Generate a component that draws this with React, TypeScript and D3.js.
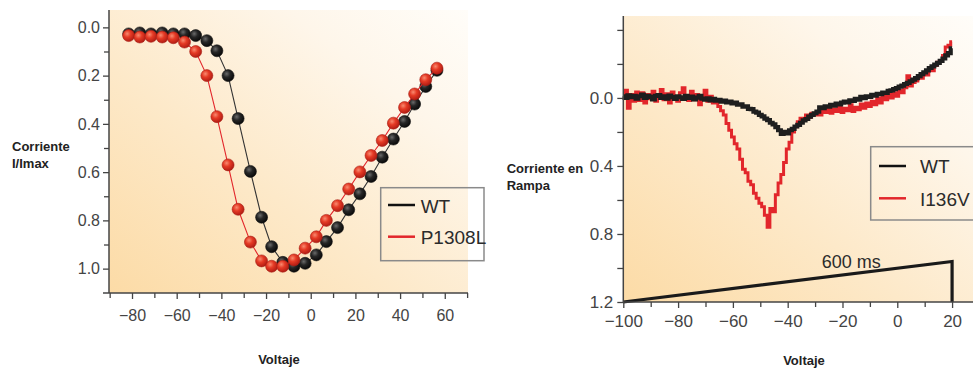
import * as d3 from "d3";
import { useEffect, useRef } from "react";

// --- Left panel: normalized I-V (steady state), two channels ---
const ivVoltages = [
  -81.5, -76.5, -71.5, -66.5, -61.5, -56.5, -51.5, -46.5, -42, -37, -32.5, -27, -22, -17.5, -12.5,
  -7.5, -2.5, 2.5, 7, 12, 17, 22, 27, 32, 37, 42, 46.5, 51.5, 56.5,
];
const ivWT = [
  0.027, 0.023, 0.027, 0.023, 0.027, 0.027, 0.034, 0.055, 0.097, 0.2, 0.378, 0.597, 0.787, 0.909,
  0.974, 0.99, 0.978, 0.943, 0.888, 0.83, 0.756, 0.69, 0.618, 0.538, 0.463, 0.39, 0.318, 0.245, 0.178,
];
const ivP1308L = [
  0.034, 0.04, 0.037, 0.04, 0.043, 0.061, 0.1, 0.2, 0.37, 0.57, 0.754, 0.89, 0.968, 0.99, 0.99,
  0.964, 0.915, 0.868, 0.8, 0.739, 0.67, 0.599, 0.531, 0.469, 0.397, 0.332, 0.276, 0.217, 0.169,
];
const ivXTicks = [-80, -60, -40, -20, 0, 20, 40, 60];
const ivXMinor = [-90, -70, -50, -30, -10, 10, 30, 50, 70];
const ivYTicks = [0, 0.2, 0.4, 0.6, 0.8, 1.0];
const ivYMinor = [0.1, 0.3, 0.5, 0.7, 0.9];

// --- Right panel: ramp currents, one sample per mV from -100 to +20 ---
const rampVoltages = d3.range(-100, 21, 1);
const rampWT = [
  -0.01, 0.0, -0.015, -0.005, -0.012, 0.004, -0.01, -0.02, 0.0, -0.012,
  -0.006, 0.008, -0.012, -0.016, 0.0, -0.01, 0.004, -0.014, -0.005, 0.006,
  -0.01, -0.004, 0.005, -0.012, 0.0, -0.008, 0.008, -0.002, -0.012, 0.004,
  0.01, 0.002, 0.014, 0.006, 0.016, 0.012, 0.022, 0.015, 0.026, 0.022,
  0.032, 0.028, 0.04, 0.038, 0.052, 0.05, 0.064, 0.066, 0.08, 0.086,
  0.1, 0.108, 0.122, 0.13, 0.146, 0.156, 0.172, 0.19, 0.212, 0.2,
  0.208, 0.19, 0.182, 0.168, 0.158, 0.146, 0.132, 0.124, 0.11, 0.1,
  0.09, 0.08, 0.055, 0.06, 0.05, 0.052, 0.04, 0.045, 0.034, 0.038,
  0.028, 0.022, 0.026, 0.014, 0.018, 0.006, 0.01, -0.006, 0.002, -0.01,
  -0.006, -0.018, -0.014, -0.024, -0.022, -0.032, -0.03, -0.042, -0.044, -0.052,
  -0.058, -0.066, -0.072, -0.082, -0.088, -0.098, -0.108, -0.116, -0.128, -0.14,
  -0.15, -0.162, -0.176, -0.186, -0.196, -0.206, -0.218, -0.232, -0.25, -0.264,
  -0.292,
];
const rampI136V = [
  0.0, -0.045, 0.06, -0.02, 0.02, -0.035, 0.015, -0.03, 0.03, -0.02,
  0.005, -0.04, 0.02, -0.01, -0.05, 0.01, -0.025, 0.03, -0.035, 0.0,
  0.02, -0.03, -0.06, 0.0, 0.015, -0.04, 0.01, -0.02, 0.04, -0.015,
  -0.045, 0.02, -0.01, 0.03, 0.01, 0.05, 0.075, 0.1, 0.15, 0.19,
  0.23, 0.27, 0.3, 0.36, 0.42, 0.44, 0.49, 0.51, 0.56, 0.59,
  0.62, 0.64, 0.69, 0.76, 0.65, 0.67, 0.57, 0.5, 0.45, 0.38,
  0.3, 0.26, 0.2, 0.17, 0.14, 0.12, 0.13, 0.1, 0.115, 0.09,
  0.1, 0.08, 0.1, 0.07, 0.085, 0.06, 0.09, 0.065, 0.08, 0.05,
  0.085, 0.06, 0.075, 0.04, 0.08, 0.055, 0.07, 0.035, 0.06, 0.03,
  0.05, 0.02, 0.04, 0.0, 0.03, -0.01, 0.01, -0.02, 0.0, -0.03,
  -0.01, -0.045, -0.03, -0.06, -0.13, -0.07, -0.09, -0.1, -0.12, -0.115,
  -0.14, -0.135, -0.17, -0.16, -0.19, -0.21, -0.22, -0.25, -0.3, -0.31,
  -0.33,
];
const protocolV = [-100, 20, 20];
const protocolI = [1.2, 0.962, 1.2];
const rampXTicks = [-100, -80, -60, -40, -20, 0, 20];
const rampXMinor = [-90, -70, -50, -30, -10, 10];
const rampYTicks = [0, 0.4, 0.8, 1.2];
const rampYMinor = [-0.4, -0.2, 0.2, 0.6, 1.0];

const FONT = "'Liberation Sans', Arial, sans-serif";
const AXIS = "#444";
const RED = "#e2262b";

export default function App() {
  const lx = useRef<SVGGElement>(null);
  const lxm = useRef<SVGGElement>(null);
  const ly = useRef<SVGGElement>(null);
  const lym = useRef<SVGGElement>(null);
  const rx = useRef<SVGGElement>(null);
  const rxm = useRef<SVGGElement>(null);
  const ry = useRef<SVGGElement>(null);
  const rym = useRef<SVGGElement>(null);

  // left panel scales
  const xL = d3.scaleLinear().domain([-90.3, 70.4]).range([109, 468]);
  const yL = d3.scaleLinear().domain([-0.072, 1.101]).range([10, 293]);
  // right panel scales
  const xR = d3.scaleLinear().domain([-100, 28]).range([623.3, 974]);
  const yR = d3.scaleLinear().domain([-0.48, 1.2]).range([16.3, 302]);

  useEffect(() => {
    const style = (g: any, size: number) => {
      g.select(".domain").remove();
      g.selectAll("line").attr("stroke", AXIS).attr("stroke-width", 1.3);
      g.selectAll("text").attr("fill", AXIS).attr("font-size", size).attr("font-family", FONT);
    };
    const fx = d3.format("d");
    const fy = d3.format(".1f");
    const none = () => "";

    d3.select(lx.current).call(d3.axisBottom(xL).tickValues(ivXTicks).tickSize(6).tickPadding(11).tickFormat(fx as any)).call(style, 16);
    d3.select(lxm.current).call(d3.axisBottom(xL).tickValues(ivXMinor).tickSize(5).tickFormat(none)).call(style, 16);
    d3.select(ly.current).call(d3.axisLeft(yL).tickValues(ivYTicks).tickSize(6).tickPadding(3).tickFormat(fy as any)).call(style, 16);
    d3.select(lym.current).call(d3.axisLeft(yL).tickValues(ivYMinor).tickSize(5).tickFormat(none)).call(style, 16);

    d3.select(rx.current).call(d3.axisBottom(xR).tickValues(rampXTicks).tickSize(6).tickPadding(7).tickFormat(fx as any)).call(style, 17);
    d3.select(rxm.current).call(d3.axisBottom(xR).tickValues(rampXMinor).tickSize(5).tickFormat(none)).call(style, 17);
    d3.select(ry.current).call(d3.axisLeft(yR).tickValues(rampYTicks).tickSize(6).tickPadding(4).tickFormat(fy as any)).call(style, 17);
    d3.select(rym.current).call(d3.axisLeft(yR).tickValues(rampYMinor).tickSize(6).tickFormat(none)).call(style, 17);
  }, []);

  const ivLine = d3
    .line<number>()
    .x((_, i) => xL(ivVoltages[i]))
    .y((d) => yL(d));
  const rampLine = d3
    .line<number>()
    .curve(d3.curveStep)
    .x((_, i) => xR(rampVoltages[i]))
    .y((d) => yR(d));
  const protoLine = d3
    .line<number>()
    .x((_, i) => xR(protocolV[i]))
    .y((d) => yR(d));

  return (
    <svg width={973} height={368} style={{ position: "absolute", left: 0, top: 0, background: "#fff" }} fontFamily={FONT}>
      <defs>
        <linearGradient id="bg" x1="0" y1="1" x2="1" y2="0">
          <stop offset="0" stopColor="#fcdba6" />
          <stop offset="0.4" stopColor="#fde9c9" />
          <stop offset="0.75" stopColor="#fef6ea" />
          <stop offset="1" stopColor="#fffdf9" />
        </linearGradient>
        <radialGradient id="dotRed" cx="0.38" cy="0.35" r="0.65">
          <stop offset="0" stopColor="#f88a70" />
          <stop offset="0.45" stopColor="#e53a25" />
          <stop offset="1" stopColor="#b21d14" />
        </radialGradient>
        <radialGradient id="dotBlack" cx="0.38" cy="0.35" r="0.65">
          <stop offset="0" stopColor="#6a6a6a" />
          <stop offset="0.45" stopColor="#262626" />
          <stop offset="1" stopColor="#0a0a0a" />
        </radialGradient>
      </defs>

      {/* ---------- left panel ---------- */}
      <rect x={109} y={10} width={359} height={283} fill="url(#bg)" />
      <path d={ivLine(ivWT) ?? ""} fill="none" stroke="#333" strokeWidth={1.1} />
      {ivWT.map((d, i) => (
        <circle key={"w" + i} cx={xL(ivVoltages[i])} cy={yL(d)} r={6} fill="url(#dotBlack)" stroke="#111" strokeWidth={0.6} />
      ))}
      <path d={ivLine(ivP1308L) ?? ""} fill="none" stroke={RED} strokeWidth={1.1} />
      {ivP1308L.map((d, i) => (
        <circle key={"p" + i} cx={xL(ivVoltages[i])} cy={yL(d)} r={6} fill="url(#dotRed)" stroke="#a81c14" strokeWidth={0.6} />
      ))}
      <line x1={103} x2={468} y1={293} y2={293} stroke={AXIS} strokeWidth={1.5} />
      <line x1={109} x2={109} y1={10} y2={293} stroke={AXIS} strokeWidth={1.5} />
      <g ref={lx} transform="translate(0,293)" />
      <g ref={lxm} transform="translate(0,293)" />
      <g ref={ly} transform="translate(109,0)" />
      <g ref={lym} transform="translate(109,0)" />

      <g>
        <rect x={380.7} y={187.7} width={103.3} height={73} fill="none" stroke="#8a8a8a" strokeWidth={1.5} />
        <line x1={388} x2={415} y1={205} y2={205} stroke="#111" strokeWidth={2.5} />
        <line x1={388} x2={415} y1={236.7} y2={236.7} stroke={RED} strokeWidth={2.5} />
        <text x={420.7} y={212.5} fontSize={19} fill="#2b2b2b">WT</text>
        <text x={420.7} y={244} fontSize={19} fill="#2b2b2b">P1308L</text>
      </g>

      <text x={12} y={151} fontSize={13} fontWeight="bold" fill="#222">Corriente</text>
      <text x={12} y={167.5} fontSize={13} fontWeight="bold" fill="#222">I/Imax</text>
      <text x={279} y={364} fontSize={13} fontWeight="bold" fill="#222" textAnchor="middle">Voltaje</text>

      {/* ---------- right panel ---------- */}
      <rect x={623.3} y={16} width={350} height={286} fill="url(#bg)" />
      <path d={rampLine(rampI136V) ?? ""} fill="none" stroke={RED} strokeWidth={3} />
      <path d={rampLine(rampWT) ?? ""} fill="none" stroke="#1e1e1e" strokeWidth={4.2} />
      <path d={protoLine(protocolI) ?? ""} fill="none" stroke="#1a1a1a" strokeWidth={3.2} />
      <text x={821.7} y={268} fontSize={18} fill="#2b2b2b">600 ms</text>
      <line x1={623.3} x2={973} y1={302} y2={302} stroke={AXIS} strokeWidth={1.5} />
      <line x1={623.3} x2={623.3} y1={16} y2={302} stroke={AXIS} strokeWidth={1.5} />
      <g ref={rx} transform="translate(0,302)" />
      <g ref={rxm} transform="translate(0,302)" />
      <g ref={ry} transform="translate(623.3,0)" />
      <g ref={rym} transform="translate(623.3,0)" />

      <g>
        <rect x={870.7} y={146.7} width={115} height={73.3} fill="none" stroke="#8a8a8a" strokeWidth={1.5} />
        <line x1={879} x2={906} y1={166} y2={166} stroke="#111" strokeWidth={2.5} />
        <line x1={879} x2={906} y1={198.3} y2={198.3} stroke={RED} strokeWidth={2.5} />
        <text x={920} y={173} fontSize={19} fill="#2b2b2b">WT</text>
        <text x={920} y={206} fontSize={19} fill="#2b2b2b">I136V</text>
      </g>

      <text x={506.7} y={173} fontSize={13} fontWeight="bold" fill="#222">Corriente en</text>
      <text x={506.7} y={189.5} fontSize={13} fontWeight="bold" fill="#222">Rampa</text>
      <text x={804} y={365} fontSize={13} fontWeight="bold" fill="#222" textAnchor="middle">Voltaje</text>
    </svg>
  );
}
